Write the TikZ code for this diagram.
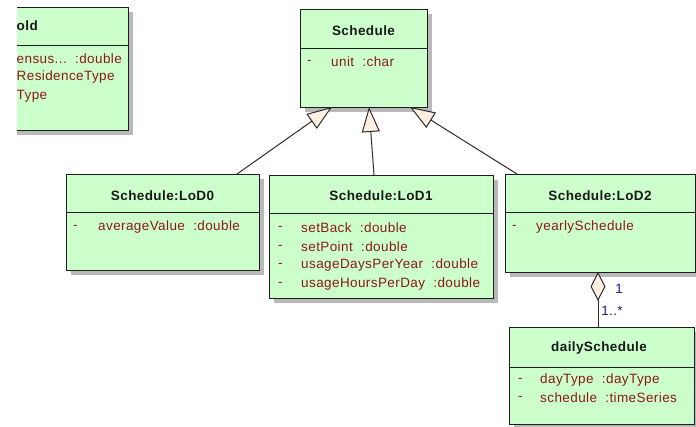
\documentclass[tikz,border=0pt]{standalone}
\usepackage{fontspec}
\setmainfont{Liberation Sans}[LetterSpace=3]
\usetikzlibrary{arrows.meta,shadows,calc}
\definecolor{boxfill}{RGB}{204,255,204}
\definecolor{boxline}{RGB}{30,30,30}
\definecolor{shadowgray}{RGB}{185,185,185}
\definecolor{attcol}{RGB}{140,25,25}
\definecolor{titlecol}{RGB}{25,25,25}
\definecolor{tipfill}{RGB}{253,240,225}
\definecolor{linecol}{RGB}{45,45,45}
\definecolor{multcol}{RGB}{30,30,130}
\begin{document}
\begin{tikzpicture}[x=1pt,y=-1pt,
  cls/.style={draw=boxline, fill=boxfill, line width=1pt, anchor=north west, inner sep=0pt, outer sep=0pt,
    drop shadow={shadow xshift=5pt, shadow yshift=-5pt, fill=shadowgray, opacity=1}},
  divl/.style={draw=boxline, line width=1pt},
  ttl/.style={font=\fontsize{13.5}{16}\selectfont\bfseries, text=titlecol, inner sep=0pt},
  att/.style={font=\fontsize{13.5}{16}\selectfont, text=attcol, inner sep=0pt, anchor=west},
  mult/.style={font=\fontsize{13.5}{16}\selectfont, text=multcol, inner sep=0pt},
  gen/.style={draw=linecol, line width=1pt, -{Triangle[length=25pt,width=18pt,fill=tipfill]}},
  agg/.style={draw=linecol, line width=1pt, {Diamond[length=29pt,width=15pt,fill=tipfill]}-}]
\useasboundingbox (0,0) rectangle (696,426);

% left clipped class
\begin{scope}
\clip (17,0) rectangle (200,200);
\node[cls, minimum width=148pt, minimum height=123pt] (hh) at (-20,7) {};
\draw[divl] ($(hh.north west)+(0,38)$) -- ($(hh.north east)+(0,38)$);
\node[ttl, anchor=west] (hht) at (16.5,26) {old};
\node[att] (hha) at (16.5,59) {ensus...\ \ :double};
\node[att] (hhb) at (16.5,77) {ResidenceType};
\node[att] (hhc) at (16.5,96) {Type};
\end{scope}

% Schedule
\node[cls, minimum width=127pt, minimum height=98pt] (sch) at (300,9) {};
\draw[divl] ($(sch.north west)+(0,39)$) -- ($(sch.north east)+(0,39)$);
\node[ttl] (scht) at (363.5,31) {Schedule};
\node[att] (schd) at (307,62) {-};
\node[att] (scha) at (331,62) {unit\ \ :char};

% LoD0
\node[cls, minimum width=193pt, minimum height=96pt] (l0) at (66,174) {};
\draw[divl] ($(l0.north west)+(0,38)$) -- ($(l0.north east)+(0,38)$);
\node[ttl] (l0t) at (162.5,196) {Schedule:LoD0};
\node[att] (l0d) at (73,227) {-};
\node[att] (l0a) at (98,227) {averageValue\ \ :double};

% LoD1
\node[cls, minimum width=224pt, minimum height=123pt] (l1) at (269,175) {};
\draw[divl] ($(l1.north west)+(0,38)$) -- ($(l1.north east)+(0,38)$);
\node[ttl] (l1t) at (381,196) {Schedule:LoD1};
\node[att] (l1d1) at (278,228) {-};
\node[att] (l1a1) at (301,228) {setBack\ \ :double};
\node[att] (l1d2) at (278,247) {-};
\node[att] (l1a2) at (301,247) {setPoint\ \ :double};
\node[att] (l1d3) at (278,265) {-};
\node[att] (l1a3) at (301,265) {usageDaysPerYear\ \ :double};
\node[att] (l1d4) at (278,284) {-};
\node[att] (l1a4) at (301,284) {usageHoursPerDay\ \ :double};

% LoD2
\node[cls, minimum width=190pt, minimum height=98pt] (l2) at (505,174) {};
\draw[divl] ($(l2.north west)+(0,38)$) -- ($(l2.north east)+(0,38)$);
\node[ttl] (l2t) at (600,196) {Schedule:LoD2};
\node[att] (l2d) at (512,227) {-};
\node[att] (l2a) at (536,227) {yearlySchedule};

% dailySchedule
\node[cls, minimum width=185pt, minimum height=97pt] (ds) at (509,327) {};
\draw[divl] ($(ds.north west)+(0,40)$) -- ($(ds.north east)+(0,40)$);
\node[ttl] (dst) at (599,348) {dailySchedule};
\node[att] (dsd1) at (518,380) {-};
\node[att] (dsa1) at (540,380) {dayType\ \ :dayType};
\node[att] (dsd2) at (518,398) {-};
\node[att] (dsa2) at (540,398) {schedule\ \ :timeSeries};

% generalizations
\draw[gen] ([xshift=-22pt]l0.north east) -- ([xshift=32pt]sch.south west);
\draw[gen] ([xshift=105pt]l1.north west) -- ([xshift=69pt]sch.south west);
\draw[gen] ([xshift=12pt]l2.north west) -- ([xshift=-17pt]sch.south east);

% aggregation
\draw[agg] ([xshift=93pt]l2.south west) -- ([xshift=89pt]ds.north west);
\node[mult] (m1) at (619,289) {1};
\node[mult] (m2) at (612,311) {1..*};
\end{tikzpicture}
\end{document}
